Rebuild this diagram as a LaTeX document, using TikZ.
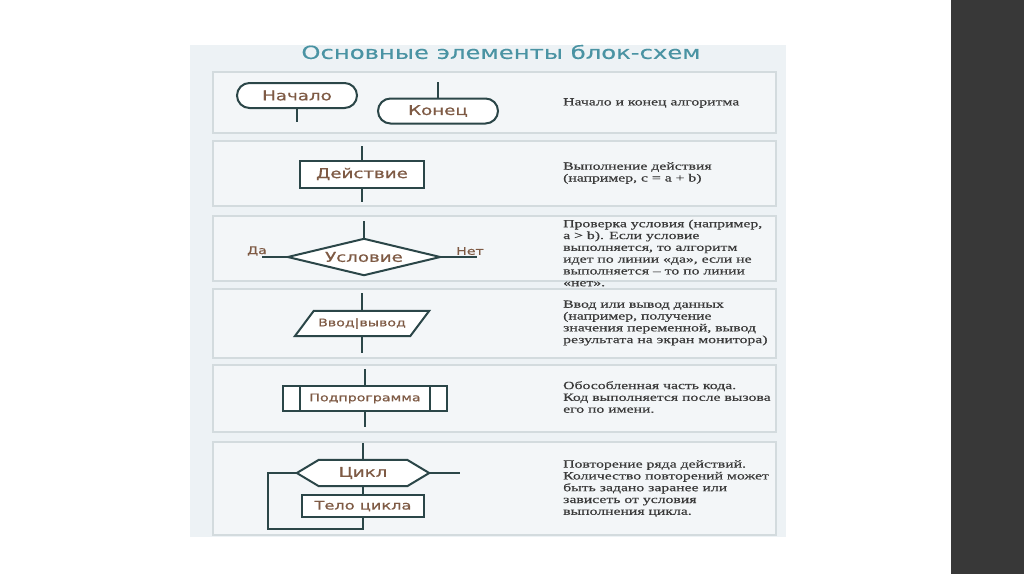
\documentclass[tikz,border=0pt]{standalone}
\usepackage{fontspec}
\setmainfont{Liberation Serif}
\newfontfamily\nodefont[FakeStretch=1.35,FakeBold=0.6]{DejaVu Sans}
\newfontfamily\titlefont[FakeStretch=1.35,FakeBold=0.4]{DejaVu Sans}
\newfontfamily\descfont[FakeStretch=1.43,FakeBold=0.5]{Liberation Serif}
\usetikzlibrary{shapes.misc,calc}
\definecolor{panel}{HTML}{EDF2F5}
\definecolor{rowfill}{HTML}{F3F6F8}
\definecolor{rowline}{HTML}{D3DBDE}
\definecolor{lc}{HTML}{2B4648}
\definecolor{tc}{HTML}{7E5A44}
\definecolor{titlec}{HTML}{4A93A3}
\definecolor{dc}{HTML}{3A3A3A}
\definecolor{band}{HTML}{383838}
\begin{document}
\begin{tikzpicture}[x=1pt,y=-1pt,
 conn/.style={draw=lc,line width=2pt},
 shapeline/.style={draw=lc,line width=2pt,fill=white,line join=miter},
 lbl/.style={font=\nodefont\fontsize{13.5}{15}\selectfont,text=tc,inner sep=0},
 small/.style={font=\nodefont\fontsize{10.5}{12}\selectfont},
 term/.style={rounded rectangle,shapeline,minimum width=120,minimum height=25,inner sep=0,lbl},
 box/.style={rectangle,shapeline,inner sep=0,lbl},
 ghost/.style={rectangle,inner sep=0},
 row/.style={draw=rowline,fill=rowfill,line width=1.2pt},
 desc/.style={anchor=west,align=left,font=\descfont\fontsize{11}{11.8}\selectfont,text=dc,inner sep=0}
]
\useasboundingbox (0,0) rectangle (1024,574);
\fill[white] (0,0) rectangle (1024,574);
\fill[band] (951,0) rectangle (1024,574);
\fill[panel] (190,45) rectangle (786,537);
\draw[row] (213,72) rectangle (776,133);
\draw[row] (213,141) rectangle (776,206);
\draw[row] (213,216) rectangle (776,281);
\draw[row] (213,289) rectangle (776,358);
\draw[row] (213,365) rectangle (776,432);
\draw[row] (213,442) rectangle (776,535);

\node[font=\titlefont\fontsize{18}{20}\selectfont,text=titlec] (title) at (501,52) {Основные элементы блок-схем};

% row 1
\node[term] (start) at (297,95.5) {Начало};
\node[term] (end) at (438,111) {Конец};
\coordinate (startout) at (297,122);
\coordinate (endin) at (438,82);
\draw[conn] (start.south) -- (startout);
\draw[conn] (endin) -- (end.north);
\node[desc] (d1) at (563,103) {Начало и конец алгоритма};

% row 2
\node[box,minimum width=124,minimum height=27] (act) at (362,174) {Действие};
\coordinate (actin) at (362,146);
\coordinate (actout) at (362,202);
\draw[conn] (actin) -- (act.north);
\draw[conn] (act.south) -- (actout);
\node[desc] (d2) at (563,173) {Выполнение действия\\(например, c = a + b)};

% row 3
\node[ghost,minimum width=152,minimum height=36] (cond) at (364,257) {};
\draw[shapeline] (cond.north) -- (cond.east) -- (cond.south) -- (cond.west) -- cycle;
\node[lbl] (condt) at (cond) {Условие};
\coordinate (condin) at (364,221);
\coordinate (yesend) at (262,257);
\coordinate (noend) at (477,257);
\draw[conn] (condin) -- (cond.north);
\draw[conn] (cond.west) -- (yesend);
\draw[conn] (cond.east) -- (noend);
\node[lbl,small] (yes) at (257,251) {Да};
\node[lbl,small] (no) at (470,251) {Нет};
\node[desc] (d3) at (563,253) {Проверка условия (например,\\a > b). Если условие\\выполняется, то алгоритм\\идет по линии «да», если не\\выполняется – то по линии\\«нет».};

% row 4
\node[ghost,minimum width=134,minimum height=25] (io) at (362,323.5) {};
\draw[shapeline] (io.south west) -- ($(io.north west)+(19,0)$) -- (io.north east) -- ($(io.south east)+(-19,0)$) -- cycle;
\node[lbl,small] (iot) at (io) {Ввод|вывод};
\coordinate (ioin) at (362,293);
\coordinate (ioout) at (362,353);
\draw[conn] (ioin) -- (io.north);
\draw[conn] (io.south) -- (ioout);
\node[desc] (d4) at (563,323) {Ввод или вывод данных\\(например, получение\\значения переменной, вывод\\результата на экран монитора)};

% row 5
\node[box,small,minimum width=164,minimum height=25] (sub) at (365,398.5) {Подпрограмма};
\draw[conn] ($(sub.north west)+(18,0)$) -- ($(sub.south west)+(18,0)$);
\draw[conn] ($(sub.north east)+(-18,0)$) -- ($(sub.south east)+(-18,0)$);
\coordinate (subin) at (365,369);
\coordinate (subout) at (365,427);
\draw[conn] (subin) -- (sub.north);
\draw[conn] (sub.south) -- (subout);
\node[desc] (d5) at (563,397) {Обособленная часть кода.\\Код выполняется после вызова\\его по имени.};

% row 6
\node[ghost,minimum width=132,minimum height=26] (cyc) at (363,473) {};
\draw[shapeline] (cyc.west) -- ($(cyc.north west)+(22,0)$) -- ($(cyc.north east)+(-22,0)$) -- (cyc.east) -- ($(cyc.south east)+(-22,0)$) -- ($(cyc.south west)+(22,0)$) -- cycle;
\node[lbl] (cyct) at (cyc) {Цикл};
\node[box,font=\nodefont\fontsize{12}{14}\selectfont,minimum width=122,minimum height=22] (body) at (363,506) {Тело цикла};
\coordinate (cycin) at (363,443);
\coordinate (cycout) at (460,473);
\coordinate (loopl) at (268,473);
\coordinate (loopb) at (268,529);
\draw[conn] (cycin) -- (cyc.north);
\draw[conn] (cyc.south) -- (body.north);
\draw[conn] (cyc.east) -- (cycout);
\draw[conn] (cyc.west) -- (loopl) -- (loopb) -| (body.south);
\node[desc] (d6) at (563,488.5) {Повторение ряда действий.\\Количество повторений может\\быть задано заранее или\\зависеть от условия\\выполнения цикла.};
\end{tikzpicture}
\end{document}
